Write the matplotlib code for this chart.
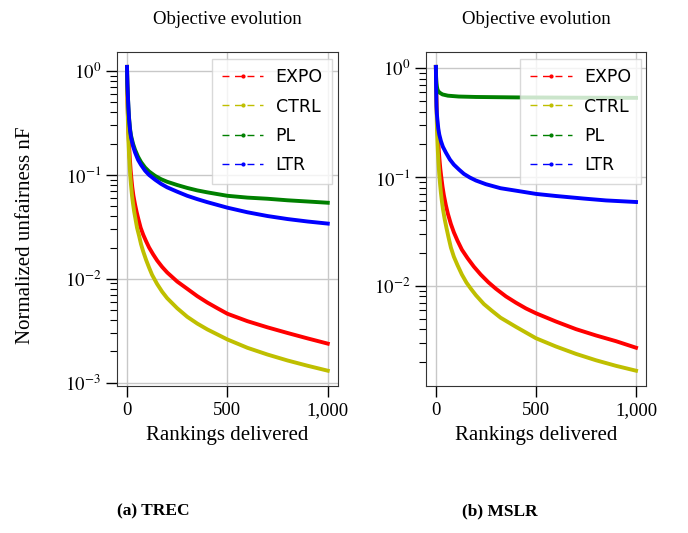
import numpy as np
import matplotlib.pyplot as plt
from matplotlib.lines import Line2D
from matplotlib.ticker import FixedLocator, FixedFormatter, LogLocator, NullFormatter

plt.rcParams['font.family'] = ['Liberation Serif', 'DejaVu Serif']
plt.rcParams['mathtext.fontset'] = 'stix'

# ---- data ----
labels = ["EXPO", "CTRL", "PL", "LTR"]
colors = ["#ff0000", "#bfbf00", "#008000", "#0000ff"]

# (a) TREC
trec_expo_x = [0, 1, 2, 3, 5, 7, 10, 14, 18, 22, 26, 32, 40, 48, 56, 68, 81, 95, 110, 130,
               150, 175, 200, 250, 300, 350, 400, 450, 500, 600, 700, 800, 900, 1000]
trec_expo_y = [1.1, 0.8, 0.6, 0.48, 0.35, 0.27, 0.2, 0.145, 0.112, 0.092, 0.077, 0.063, 0.052,
               0.044, 0.038, 0.031, 0.0265, 0.023, 0.0200, 0.0172, 0.015, 0.013, 0.0115, 0.0094,
               0.0080, 0.0068, 0.0059, 0.0052, 0.0046, 0.0039, 0.0034, 0.0030, 0.00266, 0.00237]
trec_ctrl_x = [0, 1, 2, 3, 5, 7, 10, 13, 16, 20, 25, 30, 36, 43, 50, 60, 70, 80, 95, 110, 125,
               150, 175, 200, 250, 300, 350, 400, 500, 600, 700, 800, 900, 1000]
trec_ctrl_y = [1.1, 0.75, 0.55, 0.43, 0.3, 0.22, 0.16, 0.125, 0.1, 0.08, 0.063, 0.053, 0.044,
               0.037, 0.031, 0.026, 0.0215, 0.0185, 0.0152, 0.0128, 0.0109, 0.0089, 0.0075,
               0.0065, 0.0052, 0.0043, 0.0037, 0.00325, 0.0026, 0.00216, 0.00186, 0.00163,
               0.00145, 0.0013]
trec_pl_x = [0, 2, 4, 7, 10, 15, 20, 30, 40, 55, 70, 90, 110, 140, 170, 200, 250, 300, 350,
             400, 500, 600, 700, 800, 900, 1000]
trec_pl_y = [1.1, 0.75, 0.6, 0.45, 0.36, 0.28, 0.24, 0.2, 0.175, 0.15, 0.133, 0.118, 0.108,
             0.098, 0.091, 0.086, 0.08, 0.075, 0.071, 0.068, 0.063, 0.0605, 0.059, 0.057,
             0.0555, 0.054]
trec_ltr_x = [0, 2, 4, 7, 10, 15, 20, 30, 40, 55, 70, 90, 110, 140, 170, 200, 250, 300, 350,
              400, 500, 600, 700, 800, 900, 1000]
trec_ltr_y = [1.1, 0.75, 0.6, 0.45, 0.35, 0.27, 0.23, 0.19, 0.165, 0.14, 0.125, 0.11, 0.1,
              0.09, 0.082, 0.076, 0.069, 0.063, 0.0585, 0.0547, 0.0484, 0.0437, 0.0402, 0.0376,
              0.0356, 0.034]

# (b) MSLR
mslr_expo_x = [0, 1, 2, 3, 5, 7, 10, 14, 18, 22, 27, 33, 40, 50, 60, 75, 90, 108, 130, 158,
               190, 224, 262, 300, 350, 400, 450, 500, 600, 700, 800, 900, 1000]
mslr_expo_y = [1.03, 0.8, 0.6, 0.5, 0.38, 0.3, 0.24, 0.18, 0.145, 0.12, 0.1, 0.082, 0.068,
               0.055, 0.046, 0.037, 0.031, 0.026, 0.0215, 0.018, 0.015, 0.0127, 0.0108,
               0.0094, 0.0080, 0.0070, 0.0062, 0.0056, 0.0047, 0.0040, 0.0035, 0.0031, 0.0027]
mslr_ctrl_x = [0, 1, 2, 3, 5, 7, 10, 13, 17, 21, 25, 30, 36, 44, 53, 63, 75, 90, 108, 130,
               153, 175, 200, 240, 280, 323, 400, 500, 600, 700, 800, 900, 1000]
mslr_ctrl_y = [1.03, 0.75, 0.55, 0.45, 0.3, 0.23, 0.17, 0.135, 0.105, 0.086, 0.072, 0.06,
               0.05, 0.041, 0.034, 0.028, 0.0225, 0.0185, 0.0155, 0.0127, 0.0107, 0.0094,
               0.0082, 0.0068, 0.0059, 0.0051, 0.0042, 0.0033, 0.00277, 0.00237, 0.00207,
               0.00184, 0.00166]
mslr_pl_x = [0, 1, 2, 3, 5, 8, 12, 20, 33, 60, 114, 200, 400, 700, 1000]
mslr_pl_y = [1.03, 0.85, 0.78, 0.73, 0.68, 0.64, 0.615, 0.595, 0.575, 0.56, 0.55, 0.545,
             0.54, 0.537, 0.535]
mslr_ltr_x = [0, 1, 3, 5, 8, 12, 17, 25, 35, 50, 70, 90, 116, 140, 170, 200, 250, 323, 400,
              501, 600, 737, 850, 1000]
mslr_ltr_y = [1.03, 0.67, 0.45, 0.38, 0.33, 0.28, 0.246, 0.215, 0.19, 0.168, 0.145, 0.13,
              0.117, 0.107, 0.099, 0.093, 0.086, 0.079, 0.075, 0.070, 0.067, 0.0635, 0.061,
              0.059]

xtick_vals = [0, 500, 1000]
xtick_labels = ["0", "500", "1,000"]


def draw_panel(ax, series, yticks, ylabels):
    for (x, y), c in zip(series, colors):
        ax.plot(x, y, color=c, lw=2.8, solid_joinstyle='round')
    ax.set_yscale('log')
    ax.margins(x=0.05, y=0.05)
    ax.yaxis.set_major_locator(FixedLocator(yticks))
    ax.yaxis.set_major_formatter(FixedFormatter(ylabels))
    ax.yaxis.set_minor_locator(LogLocator(base=10, subs=np.arange(2, 10)))
    ax.yaxis.set_minor_formatter(NullFormatter())
    ax.xaxis.set_major_locator(FixedLocator(xtick_vals))
    ax.xaxis.set_major_formatter(FixedFormatter(xtick_labels))
    ax.grid(True, which='major', color='#c8c8c8', lw=1.0)
    ax.set_axisbelow(True)
    ax.tick_params(which='major', direction='out', length=8, width=1, labelsize=13.5)
    ax.tick_params(which='minor', direction='out', length=5, width=0.8)
    for s in ax.spines.values():
        s.set_color('#333333')
    ax.set_title("Objective evolution", fontsize=13.5, pad=20)
    ax.set_xlabel("Rankings delivered", fontsize=15, labelpad=5)

    handles = [Line2D([0], [0], color=c, ls=(0, (5, 4)), lw=1, marker='.', ms=4)
               for c in colors]
    leg = ax.legend(handles, labels, loc='upper right', prop={'family': 'DejaVu Sans', 'size': 12.5},
                    fancybox=False, framealpha=0.8, edgecolor='#d0d0d0',
                    handlelength=2.4, handletextpad=0.7, labelspacing=0.65,
                    borderpad=0.55, borderaxespad=0, numpoints=1,
                    bbox_to_anchor=(0.975, 0.979))
    leg.get_frame().set_linewidth(1.0)


fig = plt.figure(figsize=(6.88, 5.33), dpi=100)
ax1 = fig.add_axes([0.170, 0.276, 0.321, 0.627])
ax2 = fig.add_axes([0.619, 0.276, 0.320, 0.627])

draw_panel(ax1,
           [(trec_expo_x, trec_expo_y), (trec_ctrl_x, trec_ctrl_y),
            (trec_pl_x, trec_pl_y), (trec_ltr_x, trec_ltr_y)],
           [1, 0.1, 0.01, 0.001],
           [r"$10^{0}$", r"$10^{-1}$", r"$10^{-2}$", r"$10^{-3}$"])
draw_panel(ax2,
           [(mslr_expo_x, mslr_expo_y), (mslr_ctrl_x, mslr_ctrl_y),
            (mslr_pl_x, mslr_pl_y), (mslr_ltr_x, mslr_ltr_y)],
           [1, 0.1, 0.01],
           [r"$10^{0}$", r"$10^{-1}$", r"$10^{-2}$"])

ax1.set_ylabel("Normalized unfairness nF", fontsize=15)
ax1.yaxis.set_label_coords(-0.37, 0.45)

fig.text(0.170, 0.025, "(a) TREC", fontsize=12.5, fontweight='bold', ha='left', va='bottom')
fig.text(0.672, 0.025, "(b) MSLR", fontsize=12.5, fontweight='bold', ha='left', va='bottom')

fig.savefig("out.png", dpi=100)
